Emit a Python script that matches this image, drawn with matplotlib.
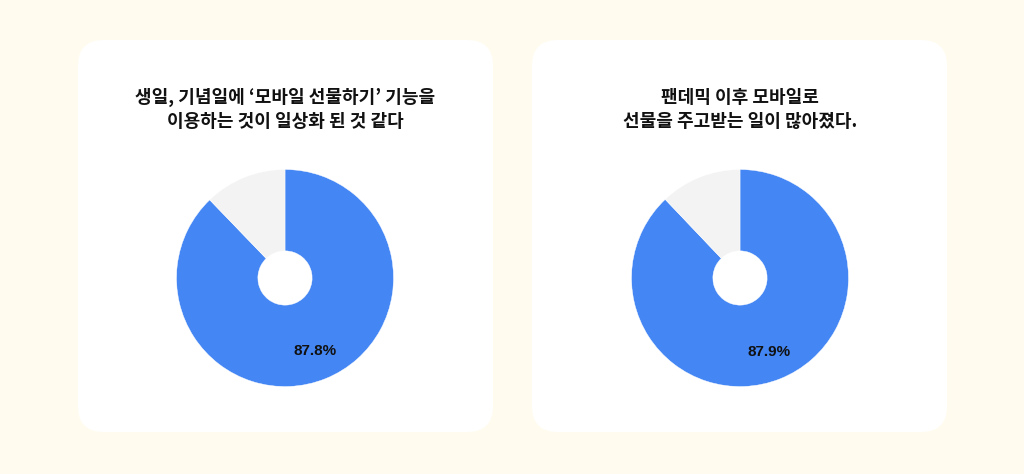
import matplotlib
matplotlib.use("Agg")
import matplotlib.pyplot as plt
from matplotlib.patches import FancyBboxPatch
import numpy as np

plt.rcParams['font.family'] = ['Noto Sans CJK KR', 'DejaVu Sans']

titles = [
    ["생일, 기념일에 ‘모바일 선물하기’ 기능을", "이용하는 것이 일상화 된 것 같다"],
    ["팬데믹 이후 모바일로", "선물을 주고받는 일이 많아졌다."],
]
values = [[87.8, 12.2], [87.9, 12.1]]
labels = ["87.8%", "87.9%"]

W, H = 1024, 474
BG = "#fffcef"
BLUE = "#4386f4"
GREY = "#f3f3f3"

fig = plt.figure(figsize=(W / 100, H / 100), dpi=100, facecolor=BG)
bg = fig.add_axes([0, 0, 1, 1])
bg.set_xlim(0, W)
bg.set_ylim(H, 0)
bg.axis('off')

panel_x = [78, 532]
panel_w = 415
panel_y, panel_h = 40, 392
centers_x = [285, 740]
cy = 278
r = 108.5

for i in range(2):
    bg.add_patch(FancyBboxPatch((panel_x[i], panel_y), panel_w, panel_h,
                                boxstyle="round,pad=0,rounding_size=26",
                                facecolor="white", edgecolor="none"))
    cx = centers_x[i]
    bg.text(cx, 97.5, titles[i][0], ha='center', va='center', fontsize=13,
            fontweight='bold', color='#111111')
    bg.text(cx, 121.5, titles[i][1], ha='center', va='center', fontsize=13,
            fontweight='bold', color='#111111')

    ax = fig.add_axes([(cx - r) / W, (H - cy - r) / H, 2 * r / W, 2 * r / H])
    wedges, _ = ax.pie(values[i], colors=[BLUE, GREY], startangle=90,
                       counterclock=False, radius=1,
                       wedgeprops=dict(width=0.75, edgecolor='white', linewidth=0.3))
    theta = np.deg2rad(90 - 360 * values[i][0] / 100 / 2)
    d = 0.73
    ax.text(d * np.cos(theta), d * np.sin(theta), labels[i], ha='center', va='center',
            fontsize=11, fontweight='bold', color='#111111', family='Liberation Sans')
    ax.set_xlim(-1, 1)
    ax.set_ylim(-1, 1)
    ax.set_aspect('equal')
    ax.axis('off')

fig.savefig("out.png", dpi=100, facecolor=BG)
